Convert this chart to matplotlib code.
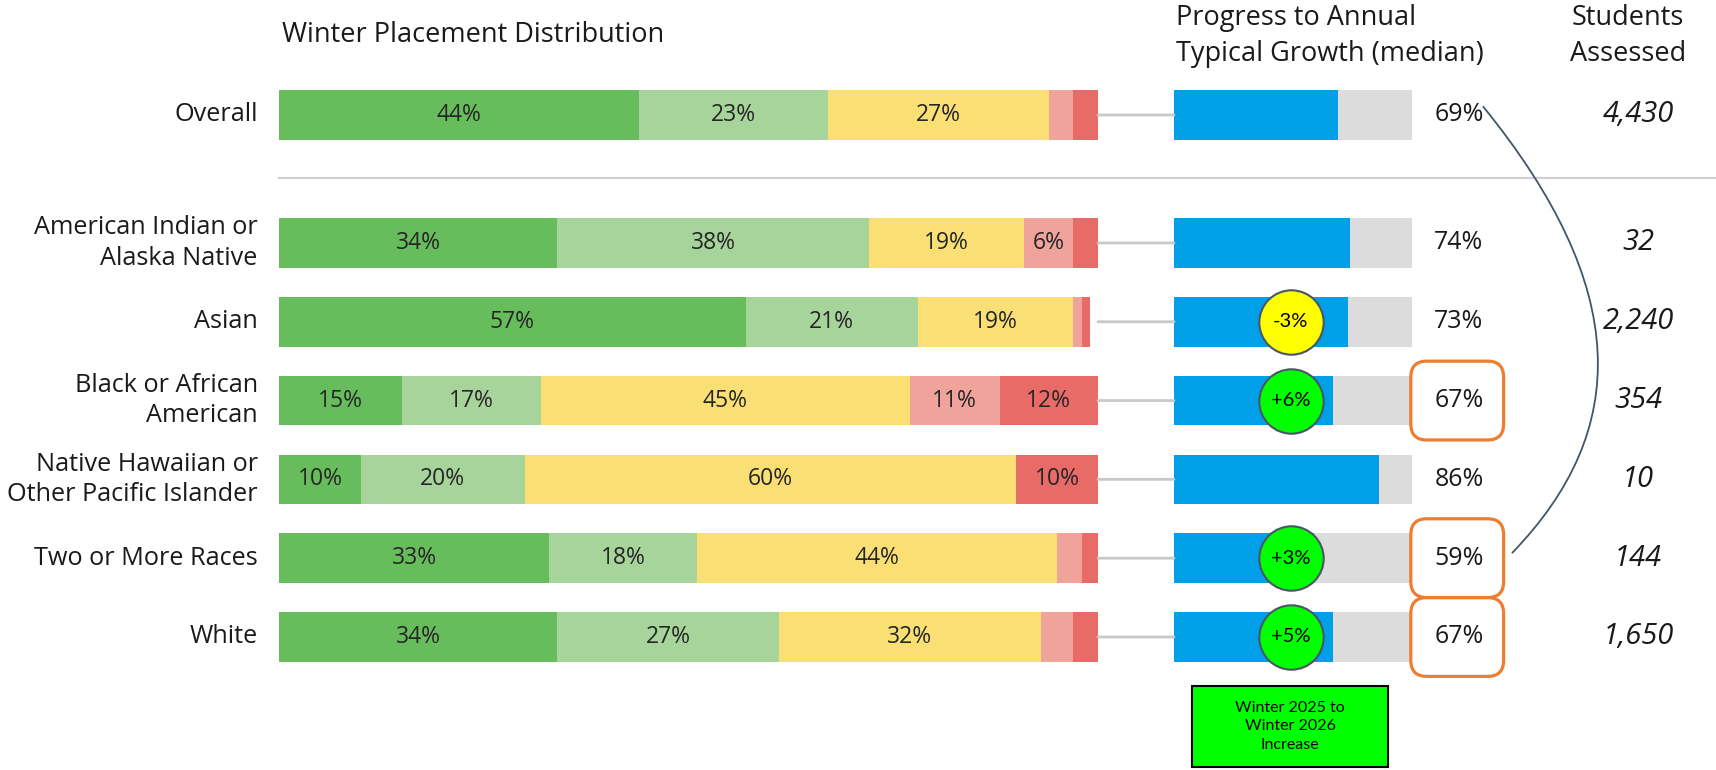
import numpy as np
import matplotlib.pyplot as plt
from matplotlib.patches import ConnectionPatch, FancyBboxPatch, Rectangle, PathPatch
from matplotlib.path import Path
from matplotlib.transforms import IdentityTransform

plt.rcParams['font.family'] = ['Open Sans', 'DejaVu Sans']

# data
groups = ['Overall', 'American Indian or\nAlaska Native', 'Asian',
          'Black or African\nAmerican', 'Native Hawaiian or\nOther Pacific Islander',
          'Two or More Races', 'White']
dark_green = [44, 34, 57, 15, 10, 33, 34]
light_green = [23, 38, 21, 17, 20, 18, 27]
yellow = [27, 19, 19, 45, 60, 44, 32]
pink = [3, 6, 1, 11, 0, 3, 4]
red = [3, 3, 1, 12, 10, 2, 3]
growth = [69, 74, 73, 67, 86, 59, 67]
change = [np.nan, np.nan, -3, 6, np.nan, 3, 5]
students = ['4,430', '32', '2,240', '354', '10', '144', '1,650']
highlight = [False, False, False, True, False, True, True]

seg_colors = ['#67bd5c', '#a6d49a', '#f9df74', '#f0a39b', '#e86b68']
W, H = 1716, 770

fig = plt.figure(figsize=(W / 100, H / 100), dpi=100)

# row positions (Overall set apart from the rest)
ypos = np.array([0] + [1.624 + i for i in range(len(groups) - 1)])
ylim = (8.312, -1.459)
bar_h = 0.63

ax1 = fig.add_axes([279 / W, 0, (1098 - 279) / W, 1])
ax1.set_xlim(0, 100)
ax1.set_ylim(*ylim)
ax1.axis('off')

ax2 = fig.add_axes([1174 / W, 0, (1412 - 1174) / W, 1])
ax2.set_xlim(0, 100)
ax2.set_ylim(*ylim)
ax2.axis('off')

# stacked placement bars
segs = [dark_green, light_green, yellow, pink, red]
left = np.zeros(len(groups))
for vals, col in zip(segs, seg_colors):
    vals = np.array(vals, dtype=float)
    ax1.barh(ypos, vals, left=left, height=bar_h, color=col, edgecolor='none')
    for y, l, v in zip(ypos, left, vals):
        if v >= 6:
            ax1.text(l + v / 2, y, f'{v:.0f}%', ha='center', va='center',
                     fontsize=16.5, color='#262626')
    left += vals

for y, g in zip(ypos, groups):
    ax1.text(-2.6, y, g, ha='right', va='center', multialignment='right',
             fontsize=18.2, linespacing=1.3, color='#1a1a1a')

# separator under Overall
ax1.axhline(0.80, xmin=0, xmax=(W - 279) / (1098 - 279), color='#d0d0d0',
            lw=1.5, clip_on=False)

# progress bars
ax2.barh(ypos, [100] * len(groups), height=bar_h, color='#dcdcdc', edgecolor='none')
ax2.barh(ypos, growth, height=bar_h, color='#00a0e9', edgecolor='none')

for y in ypos:
    con = ConnectionPatch(xyA=(100, y), coordsA=ax1.transData,
                          xyB=(0, y), coordsB=ax2.transData,
                          color='#c8c8c8', lw=2)
    fig.add_artist(con)

# change bubbles
for y, c in zip(ypos, change):
    if np.isnan(c):
        continue
    fc = '#ffff00' if c < 0 else '#00ff00'
    ax2.scatter(49, y, s=2150, color=fc, edgecolors='#4a5568', linewidths=1.5,
                zorder=5, clip_on=False)
    ax2.text(49, y, f'{c:+.0f}%', ha='center', va='center', fontsize=14.5,
             color='black', zorder=6, family=['Lato', 'DejaVu Sans'])

# median % and students
for y, g, s in zip(ypos, growth, students):
    ax2.text(119.7, y, f'{g}%', ha='center', va='center', fontsize=18, color='#1a1a1a')
    ax2.text(195, y, s, ha='center', va='center', fontsize=21, style='italic',
             color='#1a1a1a')

# orange highlight boxes
fig.canvas.draw()
for y, h in zip(ypos, highlight):
    if not h:
        continue
    x0, y0 = ax2.transData.transform((99.5, y + 0.5))
    x1, y1 = ax2.transData.transform((138.5, y - 0.5))
    box = FancyBboxPatch((x0, y0), x1 - x0, y1 - y0,
                         boxstyle='round,pad=0,rounding_size=16',
                         facecolor='none', edgecolor='#ed7d31', lw=2.3,
                         transform=IdentityTransform())
    fig.add_artist(box)

# bracket curve
verts = [(129.8, -0.11), (192, 2.2), (192, 4.0), (142, 5.56)]
curve = Path(verts, [Path.MOVETO, Path.CURVE4, Path.CURVE4, Path.CURVE4])
ax2.add_patch(PathPatch(curve, facecolor='none', edgecolor='#44546a', lw=1.3,
                        clip_on=False))

# legend box
ax2.add_patch(Rectangle((7.6, 7.24), 82.4, 1.04, facecolor='#00ff00',
                        edgecolor='black', lw=1.5, clip_on=False))
ax2.text(48.8, 7.76, 'Winter 2025 to\nWinter 2026\nIncrease', ha='center',
         va='center', fontsize=11.5, linespacing=1.4, family=['Lato', 'DejaVu Sans'])

# headers
fig.text(282 / W, 1 - 35 / H, 'Winter Placement Distribution', ha='left',
         va='center', fontsize=19.5, color='#1a1a1a')
fig.text(1176 / W, 1 - 36 / H, 'Progress to Annual\nTypical Growth (median)',
         ha='left', va='center', fontsize=19.5, linespacing=1.35, color='#1a1a1a')
fig.text(1628 / W, 1 - 36 / H, 'Students\nAssessed', ha='center', va='center',
         fontsize=19.5, linespacing=1.35, color='#1a1a1a')

fig.savefig('out.png', dpi=100)
